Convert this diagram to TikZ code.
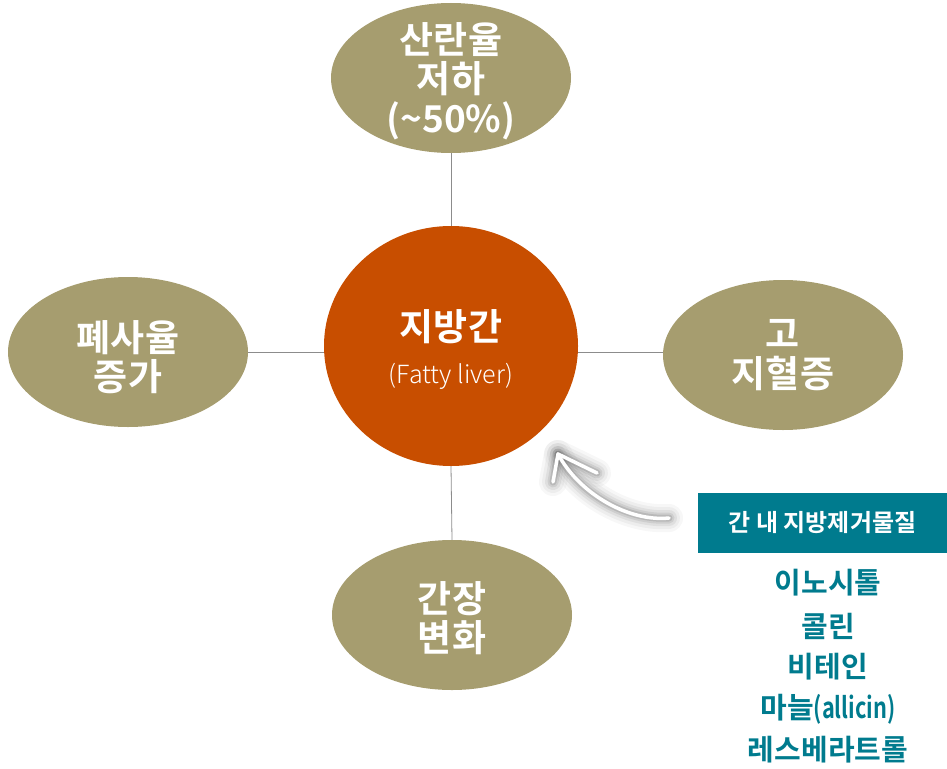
\documentclass[tikz,border=0pt]{standalone}
\usepackage{fontspec}
\usepackage{graphicx}
\setmainfont{Noto Sans CJK KR}
\newfontfamily\kbold{Noto Sans CJK KR Bold}
\newfontfamily\klight{Noto Sans CJK KR Light}
\usetikzlibrary{shapes.geometric,arrows.meta}
\definecolor{olive}{HTML}{A69D6F}
\definecolor{liver}{HTML}{C84E00}
\definecolor{teal2}{HTML}{007B8E}
\definecolor{linegray}{HTML}{8C8C8C}
\tikzset{
  oval/.style={ellipse, fill=olive, minimum width=240pt, minimum height=150pt, inner sep=0pt},
  big/.style={font=\kbold\fontsize{37}{39.5}\selectfont, text=white, align=center},
  conn/.style={draw=linegray, line width=0.8pt},
  item/.style={font=\kbold\fontsize{29}{32}\selectfont, text=teal2},
  arrowline/.style={draw=white, line width=3.5pt, line cap=round},
}
\begin{document}
\begin{tikzpicture}[x=1pt,y=-1pt]
\useasboundingbox (0,0) rectangle (947,768);
% shapes
\node[oval] (top) at (451,78) {};
\node[oval] (left) at (128,352) {};
\node[oval] (right) at (783,355) {};
\node[oval] (bottom) at (452,615) {};
\node[ellipse, fill=liver, minimum width=254pt, minimum height=240pt, inner sep=0pt] (center) at (451,346) {};
% connectors
\draw[conn] (top.south) -- (center.north);
\draw[conn] (left.east) -- (center.west |- left.east);
\draw[conn] (center.east |- left.east) -- (right.west |- left.east);
\draw[conn] (center.south) -- (bottom.north);
% texts
\node[big] (toptxt) at (451,81) {산란율\\저하\\(\textasciitilde50\%)};
\node[big] (lefttxt) at (128,357) {폐사율\\증가};
\node[big] (righttxt) at (783,355) {고\\지혈증};
\node[big] (bottomtxt) at (452,618) {간장\\변화};
\node[big] (centxt) at (451,327) {지방간};
\node[font=\klight\fontsize{25}{28}\selectfont, text=white] (subtxt) at (451,376) {(Fatty liver)};
% curved arrow with soft shadow
\coordinate (atail) at (669,518);
\coordinate (atip) at (558,454);
\coordinate (ahl) at (553,482);
\coordinate (ahr) at (597,473);
\foreach \w/\o in {28/0.03,22/0.04,16/0.06,11/0.08,7/0.10} {
  \draw[line width=\w pt, draw=black, opacity=\o, line cap=round, line join=round, xshift=-2pt, yshift=1pt]
    (atail) .. controls (630,522) and (580,495) .. (atip);
  \draw[line width=\w pt, draw=black, opacity=\o, line cap=round, line join=round, xshift=-2pt, yshift=1pt]
    (ahl) -- (atip) -- (ahr);
}
\draw[arrowline] (atail) .. controls (630,522) and (580,495) .. (atip);
\draw[arrowline, line join=round] (ahl) -- (atip) -- (ahr);
% remedies box
\node[fill=teal2, minimum width=249pt, minimum height=60pt, inner sep=0pt, text=white,
      font=\kbold\fontsize{24}{28}\selectfont] (box) at (822.5,523) {간 내 지방제거물질};
\node[item] (i1) at (828,583) {이노시톨};
\node[item] (i2) at (828,626) {콜린};
\node[item] (i3) at (828,667) {비테인};
\node[item] (i4) at (828,709) {마늘\scalebox{0.75}[1]{(allicin)}};
\node[item] (i5) at (828,750) {레스베라트롤};
\end{tikzpicture}
\end{document}
